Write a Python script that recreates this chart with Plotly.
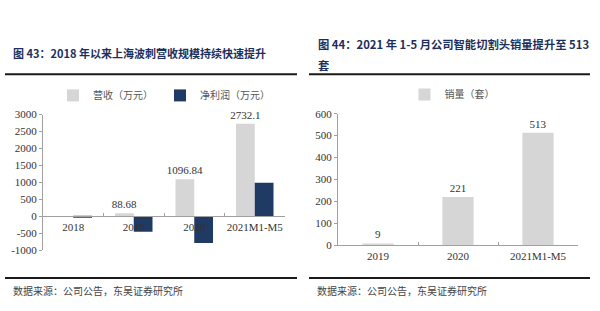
import plotly.graph_objects as go

# ---------------- data ----------------
left_categories = ["2018", "2019", "2020", "2021M1-M5"]
revenue = [None, 88.68, 1096.84, 2732.1]          # 营收（万元）
net_profit = [-30, -455, -790, 990]                # 净利润（万元）
left_yticks = [-1000, -500, 0, 500, 1000, 1500, 2000, 2500, 3000]

right_categories = ["2019", "2020", "2021M1-M5"]
sales = [9, 221, 513]                              # 销量（套）
right_yticks = [0, 100, 200, 300, 400, 500, 600]

title_left = "图 43：2018 年以来上海波刺营收规模持续快速提升"
title_right_1 = "图 44：2021 年 1-5 月公司智能切割头销量提升至 513"
title_right_2 = "套"
source_text = "数据来源：公司公告，东吴证券研究所"

# ---------------- style ----------------
W, H = 600, 311
GRAY = "#d6d6d6"
NAVY = "#1f3a63"
AXIS = "#a0a0a0"
TXT = "#333333"
SERIF = "Liberation Serif, Times New Roman, serif"
CJK = "Noto Sans CJK SC, sans-serif"
TITLE_C = "#1c2f5c"

def px_x(x):
    return x / W

def px_y(y):
    return 1 - y / H

# left plot area: x 43..285, y 113(3000)..254(-1000)
L_x0, L_x1 = px_x(43), px_x(285)
L_y0, L_y1 = px_y(254), px_y(113)
L_ymin, L_ymax = -1000, 3000
zero_pos = L_y0 + (0 - L_ymin) / (L_ymax - L_ymin) * (L_y1 - L_y0)

# right plot area: x 338..578, y 112(600)..249(0)
R_x0, R_x1 = px_x(338), px_x(578)
R_y0, R_y1 = px_y(249), px_y(112)

fig = go.Figure()

fig.add_trace(go.Bar(
    x=left_categories, y=revenue, name="营收（万元）",
    marker=dict(color=GRAY, line=dict(width=0)),
    width=0.31, offset=-0.31,
    text=[("" if v is None else str(v)) for v in revenue],
    textposition="outside", cliponaxis=False, constraintext="none",
    textfont=dict(family=SERIF, size=11, color=TXT),
    xaxis="x", yaxis="y", legend="legend",
))
fig.add_trace(go.Bar(
    x=left_categories, y=net_profit, name="净利润（万元）",
    marker=dict(color=NAVY, line=dict(width=0)),
    width=0.31, offset=0.0,
    xaxis="x", yaxis="y", legend="legend",
))
fig.add_trace(go.Bar(
    x=right_categories, y=sales, name="销量（套）",
    marker=dict(color=GRAY, line=dict(width=0)),
    width=0.39,
    text=[str(v) for v in sales],
    textposition="outside", cliponaxis=False, constraintext="none",
    textfont=dict(family=SERIF, size=11, color=TXT),
    xaxis="x2", yaxis="y2", legend="legend2",
))

axis_font = dict(family=SERIF, size=11, color=TXT)

fig.update_layout(
    width=W, height=H,
    margin=dict(l=0, r=0, t=0, b=0),
    paper_bgcolor="white", plot_bgcolor="rgba(0,0,0,0)",
    barmode="overlay",
    xaxis=dict(
        domain=[L_x0, L_x1], anchor="free", position=zero_pos,
        range=[-0.5, 3.5], type="category", tickangle=0,
        showline=True, linecolor=AXIS, linewidth=1,
        ticks="inside", ticklen=3, tickcolor=AXIS, tickson="boundaries",
        showgrid=False, tickfont=axis_font,
    ),
    yaxis=dict(
        domain=[L_y0, L_y1], anchor="x",
        range=[L_ymin, L_ymax], tickvals=left_yticks,
        ticktext=[str(v) for v in left_yticks],
        showline=True, linecolor=AXIS, linewidth=1,
        ticks="outside", ticklen=3, tickcolor=AXIS,
        showgrid=False, zeroline=False, tickfont=axis_font,
    ),
    xaxis2=dict(
        domain=[R_x0, R_x1], anchor="y2",
        range=[-0.5, 2.5], type="category", tickangle=0,
        showline=True, linecolor=AXIS, linewidth=1,
        ticks="inside", ticklen=3, tickcolor=AXIS, tickson="boundaries",
        showgrid=False, tickfont=axis_font,
    ),
    yaxis2=dict(
        domain=[R_y0, R_y1], anchor="x2",
        range=[0, 600], tickvals=right_yticks,
        showline=True, linecolor=AXIS, linewidth=1,
        ticks="outside", ticklen=3, tickcolor=AXIS,
        showgrid=False, zeroline=False, tickfont=axis_font,
    ),
    legend=dict(
        orientation="h", x=px_x(160), xanchor="center",
        y=px_y(93), yanchor="middle",
        font=dict(family=CJK, size=10, color="#555555"),
        itemwidth=30, entrywidth=62, traceorder="normal",
        bgcolor="rgba(0,0,0,0)",
    ),
    legend2=dict(
        orientation="h", x=px_x(452), xanchor="center",
        y=px_y(92), yanchor="middle",
        font=dict(family=CJK, size=10, color="#555555"),
        itemwidth=30, bgcolor="rgba(0,0,0,0)",
    ),
    showlegend=True,
)

shapes = []
for x0, x1 in [(5, 297), (309, 590)]:
    for yy in (71, 283):
        shapes.append(dict(type="line", xref="paper", yref="paper",
                           x0=px_x(x0), x1=px_x(x1), y0=px_y(yy), y1=px_y(yy),
                           line=dict(color="#1a1a1a", width=2)))
fig.update_layout(shapes=shapes)

def note(text, x, y, size, color, bold=False):
    return dict(text=("<b>" + text + "</b>") if bold else text,
                x=px_x(x), y=px_y(y), xref="paper", yref="paper",
                xanchor="left", yanchor="middle", showarrow=False,
                font=dict(family=CJK, size=size, color=color))

annotations = [
    note(title_left, 11, 49, 11, TITLE_C, True),
    note(title_right_1, 316, 40, 11.3, TITLE_C, True),
    note(title_right_2, 316, 61, 11.3, TITLE_C, True),
    note(source_text, 11, 296, 10, "#444444"),
    note(source_text, 315, 296, 10, "#444444"),
]
fig.update_layout(annotations=annotations)

fig.write_html("out.html")
